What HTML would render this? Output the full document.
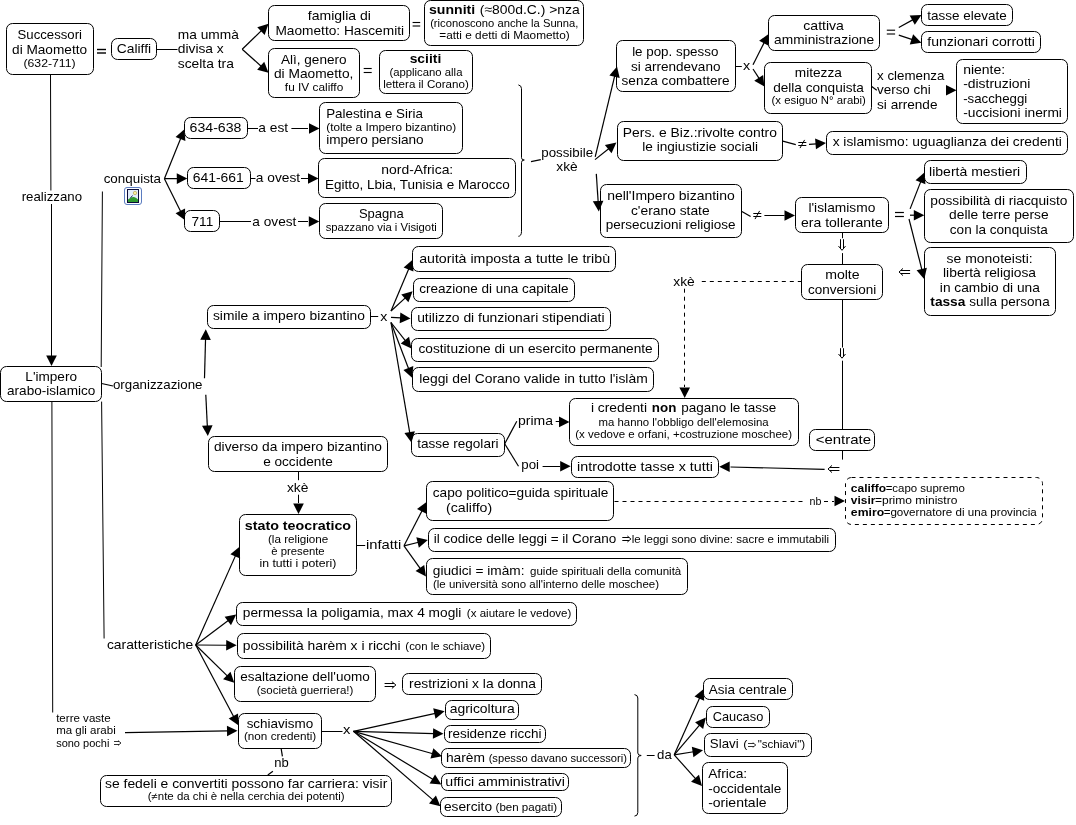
<!DOCTYPE html><html><head><meta charset="utf-8"><style>html,body{margin:0;padding:0;background:#fff;width:1076px;height:825px;overflow:hidden}svg{display:block;will-change:transform}text{font-family:"Liberation Sans",sans-serif;fill:#000}</style></head><body>
<svg width="1076" height="825" viewBox="0 0 1076 825">
<rect width="1076" height="825" fill="#fff"/>
<g fill="none" stroke="#000" stroke-width="1"><polyline points="50.5,74.5 50.9,190.5"/><polyline points="51.5,204 51.5,356"/><polyline points="156.5,49.5 177.5,49.5"/><polyline points="101.2,367 102.4,191.5"/><polyline points="247.5,128.5 258,128.5"/><polyline points="291.4,128.5 308,128.5"/><polyline points="250.5,178.5 255.5,178.5"/><polyline points="301,178.5 308,178.5"/><polyline points="219.5,221.5 251,221.5"/><polyline points="298,221.5 308,221.5"/><polyline points="735.5,66.5 741.8,66.5"/><polyline points="764.4,215.5 784.5,215.5"/><polyline points="842.5,232.5 842.5,238.2"/><polyline points="842.5,253.1 842.5,264.5"/><polyline points="842.5,299.5 842.5,347.5"/><polyline points="842.5,360.7 842.5,429.5"/><polyline points="842.5,450.5 842.5,459.6"/><polyline points="370.7,316.5 378.2,316.5"/><polyline points="555.7,421.5 559,421.5"/><polyline points="542.6,466.5 560,466.5"/><polyline points="356.4,545.5 365.2,545.5"/><polyline points="298.5,471.5 298.5,480.2"/><polyline points="298.5,494.7 298.5,503"/><polyline points="101.6,401.6 104.1,638.5"/><polyline points="51.9,401.6 52.7,712.5"/><polyline points="321.6,731.5 342.5,731.5"/><polyline points="646.8,755.5 654.6,755.5"/></g>
<g fill="none" stroke="#000" stroke-width="1.2"><polyline points="531,161.6 540.8,159.6"/><polyline points="871.7,86.6 876.8,90.3"/><polyline points="782.8,141.2 795.8,144.6"/><polyline points="741.9,211.5 750.6,216.5"/><polyline points="824.6,469.3 730.5,467"/><polyline points="101.6,383.5 113,386"/><polyline points="504.7,443.8 516.8,421.2"/><polyline points="504.7,443.8 518.5,466.3"/><polyline points="281.2,748.9 282.4,756.4"/><polyline points="272.9,771.2 267.8,775.1"/></g>
<g fill="none" stroke="#000" stroke-width="1" stroke-dasharray="4,4"><polyline points="701.8,281.5 801.5,281.5"/><polyline points="684.5,288.7 684.5,387"/><polyline points="614.5,501.5 803,501.5"/><polyline points="824,501.5 834,501.5"/></g>
<g stroke="#000" stroke-width="1.2"><line x1="242.2" y1="49.2" x2="261.67" y2="30.4"/><line x1="242.2" y1="49.2" x2="261.43" y2="66.46"/><line x1="164.4" y1="178.7" x2="180.84" y2="138.01"/><line x1="164.4" y1="178.7" x2="177.8" y2="178.58"/><line x1="164.4" y1="178.7" x2="180.78" y2="211.69"/><line x1="595.2" y1="156.8" x2="614.77" y2="75.73"/><line x1="595" y1="159.6" x2="608.98" y2="148.43"/><line x1="596.3" y1="173.9" x2="598.17" y2="202.02"/><line x1="753" y1="64.7" x2="764.31" y2="42.37"/><line x1="753" y1="69" x2="759.24" y2="78.63"/><line x1="898.8" y1="27.6" x2="913.1" y2="19.63"/><line x1="898.8" y1="35.1" x2="912.4" y2="39.67"/><line x1="809" y1="144.4" x2="816.53" y2="143.78"/><line x1="910.1" y1="208.9" x2="920.85" y2="181.35"/><line x1="910" y1="215.2" x2="914.8" y2="215.2"/><line x1="909" y1="219" x2="921.96" y2="269.99"/><line x1="391" y1="311" x2="408.91" y2="268.55"/><line x1="391" y1="311" x2="405.6" y2="297.62"/><line x1="391" y1="317.3" x2="401.02" y2="317.92"/><line x1="391" y1="322.5" x2="405.52" y2="340.94"/><line x1="391" y1="322.5" x2="408.71" y2="368.92"/><line x1="391" y1="322.5" x2="409.81" y2="433.13"/><line x1="204.5" y1="378.2" x2="205.55" y2="338.8"/><line x1="205.8" y1="394.8" x2="207.34" y2="426.51"/><line x1="404" y1="545.8" x2="422.16" y2="510.45"/><line x1="404" y1="545.8" x2="418.57" y2="542.25"/><line x1="404" y1="545.8" x2="420.47" y2="568.78"/><line x1="195.7" y1="645" x2="235.63" y2="555.38"/><line x1="195.7" y1="645" x2="228.6" y2="620.3"/><line x1="195.7" y1="645" x2="227.2" y2="645.23"/><line x1="195.7" y1="645" x2="227.51" y2="676.15"/><line x1="195.7" y1="645" x2="233.85" y2="716.91"/><line x1="125" y1="732.6" x2="228" y2="730.95"/><line x1="353.5" y1="731.3" x2="435.32" y2="713.34"/><line x1="353.5" y1="731.3" x2="434" y2="733.54"/><line x1="353.5" y1="731.3" x2="432.86" y2="753.72"/><line x1="353.5" y1="731.3" x2="433.18" y2="779.58"/><line x1="353.5" y1="731.3" x2="433.21" y2="800.09"/><line x1="674.2" y1="754.8" x2="699.72" y2="697.67"/><line x1="674.2" y1="754.8" x2="699.74" y2="724.83"/><line x1="674.2" y1="754.8" x2="693.61" y2="751.77"/><line x1="674.2" y1="754.8" x2="695.68" y2="778.91"/></g>
<g fill="#000"><polygon points="268.5,23.8 264.63,34.91 257.27,27.28"/><polygon points="268.5,72.8 257.15,69.73 264.22,61.84"/><polygon points="184.4,129.2 185.38,140.92 175.55,136.95"/><polygon points="187.3,178.5 176.85,183.89 176.75,173.29"/><polygon points="185,220.2 175.58,213.15 185.08,208.44"/><polygon points="319.5,128.5 309,133.8 309,123.2"/><polygon points="318.5,178.5 308,183.8 308,173.2"/><polygon points="319.3,221.5 308.8,226.8 308.8,216.2"/><polygon points="617,66.5 619.69,77.95 609.38,75.46"/><polygon points="616.4,142.5 611.51,153.2 604.89,144.91"/><polygon points="598.8,211.5 592.82,201.37 603.39,200.67"/><polygon points="768.6,33.9 768.58,45.66 759.13,40.87"/><polygon points="764.4,86.6 754.24,80.67 763.14,74.91"/><polygon points="921.4,15 914.81,24.74 909.65,15.48"/><polygon points="921.4,42.7 909.76,44.38 913.14,34.33"/><polygon points="956.5,90.3 946,95.6 946,85"/><polygon points="826,143 815.97,149.14 815.1,138.58"/><polygon points="795,215.5 784.5,220.8 784.5,210.2"/><polygon points="924.3,172.5 925.42,184.21 915.55,180.36"/><polygon points="924.3,215.2 913.8,220.5 913.8,209.9"/><polygon points="924.3,279.2 916.58,270.33 926.85,267.72"/><polygon points="719.2,466.8 729.7,461.5 729.7,472.1"/><polygon points="684.7,397.9 679.4,387.4 690,387.4"/><polygon points="412.6,259.8 413.4,271.53 403.64,267.41"/><polygon points="412.6,291.2 408.44,302.2 401.28,294.39"/><polygon points="410.5,318.5 399.69,323.15 400.35,312.57"/><polygon points="411.4,348.4 400.74,343.43 409.07,336.87"/><polygon points="412.1,377.8 403.41,369.88 413.31,366.1"/><polygon points="411.4,442.5 404.42,433.04 414.87,431.26"/><polygon points="205.8,329.3 210.82,339.94 200.22,339.66"/><polygon points="207.8,436 202,425.77 212.58,425.26"/><polygon points="569.5,421.9 559,427.2 559,416.6"/><polygon points="570.7,466.3 560.2,471.6 560.2,461"/><polygon points="845,501 834.5,506.3 834.5,495.7"/><polygon points="426.5,502 426.42,513.76 416.99,508.92"/><polygon points="427.8,540 418.85,547.64 416.34,537.34"/><polygon points="426,576.5 415.58,571.05 424.19,564.88"/><polygon points="298.5,514.1 293.2,503.6 303.8,503.6"/><polygon points="51.5,366 46.2,355.5 56.8,355.5"/><polygon points="239.5,546.7 240.07,558.45 230.39,554.13"/><polygon points="236.2,614.6 230.98,625.14 224.62,616.66"/><polygon points="236.7,645.3 226.16,650.52 226.24,639.92"/><polygon points="234.3,682.8 223.09,679.24 230.51,671.67"/><polygon points="238.3,725.3 228.7,718.51 238.06,713.54"/><polygon points="237.5,730.8 227.09,736.27 226.92,725.67"/><polygon points="444.6,711.3 435.48,718.73 433.21,708.37"/><polygon points="443.5,733.8 432.86,738.81 433.15,728.21"/><polygon points="442,756.3 430.45,758.55 433.34,748.35"/><polygon points="441.3,784.5 429.57,783.59 435.07,774.53"/><polygon points="440.4,806.3 428.99,803.45 435.91,795.43"/><polygon points="703.6,689 704.16,700.75 694.48,696.42"/><polygon points="705.9,717.6 703.12,729.03 695.06,722.15"/><polygon points="703,750.3 693.44,757.16 691.81,746.68"/><polygon points="702,786 691.06,781.69 698.97,774.63"/></g>
<g fill="none" stroke="#000" stroke-width="1"><path d="M518.4,84.9 Q521.5,85.5 521.5,88.7 L521.5,157.7 Q521.5,160 524.3,160 Q521.5,160 521.5,162.5 L521.5,231.5 Q521.5,236 518.4,236.3"/><path d="M634.5,694.6 Q637.8,695 637.8,698 L637.8,753 Q637.8,755.5 641.2,755.5 Q637.8,755.5 637.8,758 L637.8,812.5 Q637.8,816 634.5,816.1"/></g>
<g fill="none" stroke="#000" stroke-width="1"><rect x="6.5" y="23.5" width="87" height="51" rx="6" ry="6"/><rect x="111.5" y="38.5" width="45" height="21" rx="6" ry="6"/><rect x="268.5" y="5.5" width="141" height="35" rx="6" ry="6"/><rect x="424.5" y="0.5" width="159" height="45" rx="6" ry="6"/><rect x="268.5" y="48.5" width="91" height="49" rx="6" ry="6"/><rect x="379.5" y="50.5" width="93" height="43" rx="6" ry="6"/><rect x="184.5" y="117.5" width="63" height="21" rx="6" ry="6"/><rect x="187.5" y="167.5" width="63" height="21" rx="6" ry="6"/><rect x="184.5" y="210.5" width="35" height="21" rx="6" ry="6"/><rect x="319.5" y="102.5" width="143" height="51" rx="6" ry="6"/><rect x="318.5" y="158.5" width="197" height="39" rx="6" ry="6"/><rect x="319.5" y="203.5" width="123" height="35" rx="6" ry="6"/><rect x="616.5" y="40.5" width="119" height="51" rx="6" ry="6"/><rect x="617.5" y="121.5" width="165" height="39" rx="6" ry="6"/><rect x="600.5" y="184.5" width="141" height="53" rx="6" ry="6"/><rect x="768.5" y="15.5" width="111" height="35" rx="6" ry="6"/><rect x="764.5" y="62.5" width="107" height="51" rx="6" ry="6"/><rect x="921.5" y="4.5" width="91" height="21" rx="6" ry="6"/><rect x="921.5" y="31.5" width="119" height="21" rx="6" ry="6"/><rect x="956.5" y="59.5" width="111" height="64" rx="6" ry="6"/><rect x="826.5" y="131.5" width="241" height="23" rx="6" ry="6"/><rect x="924.5" y="160.5" width="102" height="23" rx="6" ry="6"/><rect x="924.5" y="189.5" width="149" height="53" rx="6" ry="6"/><rect x="924.5" y="247.5" width="131" height="68" rx="6" ry="6"/><rect x="795.5" y="197.5" width="93" height="35" rx="6" ry="6"/><rect x="801.5" y="264.5" width="81" height="35" rx="6" ry="6"/><rect x="809.5" y="429.5" width="65" height="21" rx="6" ry="6"/><rect x="0.5" y="366.5" width="101" height="35" rx="6" ry="6"/><rect x="207.5" y="305.5" width="163" height="23" rx="6" ry="6"/><rect x="208.5" y="436.5" width="179" height="35" rx="6" ry="6"/><rect x="412.5" y="246.5" width="203" height="25" rx="6" ry="6"/><rect x="413.5" y="278.5" width="161" height="23" rx="6" ry="6"/><rect x="411.5" y="307.5" width="199" height="23" rx="6" ry="6"/><rect x="411.5" y="338.5" width="247" height="23" rx="6" ry="6"/><rect x="412.5" y="367.5" width="241" height="24" rx="6" ry="6"/><rect x="411.5" y="433.5" width="93" height="23" rx="6" ry="6"/><rect x="569.5" y="398.5" width="229" height="47" rx="6" ry="6"/><rect x="571.5" y="456.5" width="147" height="21" rx="6" ry="6"/><rect x="426.5" y="481.5" width="187" height="39" rx="6" ry="6"/><rect x="428.5" y="528.5" width="407" height="23" rx="6" ry="6"/><rect x="426.5" y="558.5" width="261" height="36" rx="6" ry="6"/><rect x="845.5" y="477.5" width="197" height="47" rx="6" ry="6" stroke-dasharray="4,4"/><rect x="239.5" y="514.5" width="117" height="61" rx="6" ry="6"/><rect x="236.5" y="602.5" width="340" height="23" rx="6" ry="6"/><rect x="237.5" y="633.5" width="253" height="25" rx="6" ry="6"/><rect x="234.5" y="666.5" width="141" height="35" rx="6" ry="6"/><rect x="402.5" y="673.5" width="139" height="21" rx="6" ry="6"/><rect x="238.5" y="713.5" width="83" height="35" rx="6" ry="6"/><rect x="100.5" y="775.5" width="291" height="31" rx="6" ry="6"/><rect x="445.5" y="700.5" width="73" height="19" rx="6" ry="6"/><rect x="444.5" y="725.5" width="101" height="17" rx="6" ry="6"/><rect x="441.5" y="748.5" width="189" height="19" rx="6" ry="6"/><rect x="441.5" y="773.5" width="127" height="17" rx="6" ry="6"/><rect x="440.5" y="797.5" width="121" height="19" rx="6" ry="6"/><rect x="703.5" y="678.5" width="89" height="21" rx="6" ry="6"/><rect x="706.5" y="706.5" width="63" height="21" rx="6" ry="6"/><rect x="704.5" y="733.5" width="107" height="23" rx="6" ry="6"/><rect x="702.5" y="762.5" width="85" height="51" rx="6" ry="6"/></g>
<g fill="#000"><rect x="97" y="48.8" width="9" height="1.4"/><rect x="97" y="52.3" width="9" height="1.4"/><rect x="412.6" y="21.95" width="7.6" height="1.1"/><rect x="412.6" y="25.45" width="7.6" height="1.1"/><rect x="363.7" y="67.95" width="8" height="1.1"/><rect x="363.7" y="71.95" width="8" height="1.1"/><rect x="886.8" y="29.65" width="8.3" height="1.1"/><rect x="886.8" y="33.45" width="8.3" height="1.1"/><rect x="895" y="211.9" width="8.9" height="1.2"/><rect x="895" y="215.9" width="8.9" height="1.2"/></g>
<path fill="none" stroke="#000" stroke-width="1.0" d="M798.3,142.5h8 M798.3,145.5h8 M804.6,139.9 L800,148.1 M753.3,213.5h8 M753.3,216.5h8 M759.6,210.9 L755,219.1 M840.5,239.2V248.3 M843.5,239.2V248.3 M838.5,246.1 L842,250.3 L845.5,246.1 M840.5,348.2V356.2 M843.5,348.2V356.2 M838.5,354 L842,358.2 L845.5,354 M901,270.5H910.1 M901,273.5H910.1 M903,268.4 L899,272 L903,275.6 M830,467.5H839.4 M830,470.5H839.4 M832,465.4 L828,469 L832,472.6 M384.6,683.5H393.9 M384.6,686.5H393.9 M391.9,681.6 L395.9,685 L391.9,688.4 M622.3,537.5H628.9 M622.3,540.5H628.9 M627.4,536 L630.9,539 L627.4,542"/>
<path fill="none" stroke="#000" stroke-width="0.8" d="M114,741.5H119 M114,744.5H119 M118,740.6 L121,743 L118,745.4 M748,743.5H753.8 M748,746.5H753.8 M752.8,742.7 L755.8,745 L752.8,747.3"/>
<g><text x="17.55" y="39.4" font-size="13.4" textLength="64.4" lengthAdjust="spacingAndGlyphs">Successori</text><text x="12.05" y="54" font-size="13.4" textLength="75" lengthAdjust="spacingAndGlyphs">di Maometto</text><text x="23.45" y="66.6" font-size="10.6" textLength="52.2" lengthAdjust="spacingAndGlyphs">(632-711)</text><text x="116.75" y="53.3" font-size="13.4" textLength="34.3" lengthAdjust="spacingAndGlyphs">Califfi</text><text x="177.75" y="39.4" font-size="13.4" textLength="61.1" lengthAdjust="spacingAndGlyphs">ma ummà</text><text x="177.75" y="53.4" font-size="13.4" textLength="46" lengthAdjust="spacingAndGlyphs">divisa x</text><text x="177.75" y="67.7" font-size="13.4" textLength="56.1" lengthAdjust="spacingAndGlyphs">scelta tra</text><text x="307.85" y="20.1" font-size="13.4" textLength="63.1" lengthAdjust="spacingAndGlyphs">famiglia di</text><text x="275.45" y="34.6" font-size="13.4" textLength="128.6" lengthAdjust="spacingAndGlyphs">Maometto: Hascemiti</text><text x="429.05" y="13.8" font-size="13.4" font-weight="bold" textLength="46.1" lengthAdjust="spacingAndGlyphs">sunniti</text><text x="479.75" y="13.8" font-size="13.4" textLength="100" lengthAdjust="spacingAndGlyphs">(≈800d.C.) &gt;nza</text><text x="430.15" y="27.4" font-size="10.6" textLength="148.3" lengthAdjust="spacingAndGlyphs">(riconoscono anche la Sunna,</text><text x="439.25" y="39.2" font-size="10.6" textLength="130.4" lengthAdjust="spacingAndGlyphs">=atti e detti di Maometto)</text><text x="280.95" y="64" font-size="13.4" textLength="65.6" lengthAdjust="spacingAndGlyphs">Alì, genero</text><text x="273.95" y="78.3" font-size="13.4" textLength="79.4" lengthAdjust="spacingAndGlyphs">di Maometto,</text><text x="284.85" y="90.6" font-size="10.6" textLength="58.4" lengthAdjust="spacingAndGlyphs">fu IV califfo</text><text x="409.65" y="62.7" font-size="13.4" font-weight="bold" textLength="31.6" lengthAdjust="spacingAndGlyphs">sciiti</text><text x="389.45" y="76.1" font-size="10.6" textLength="73" lengthAdjust="spacingAndGlyphs">(applicano alla</text><text x="383.15" y="88.1" font-size="10.6" textLength="85.6" lengthAdjust="spacingAndGlyphs">lettera il Corano)</text><text x="189.55" y="132.2" font-size="13.4" textLength="51.9" lengthAdjust="spacingAndGlyphs">634-638</text><text x="192.75" y="182.4" font-size="13.4" textLength="51.1" lengthAdjust="spacingAndGlyphs">641-661</text><text x="191.55" y="225.7" font-size="13.4" textLength="21.7" lengthAdjust="spacingAndGlyphs">711</text><text x="258.35" y="131.7" font-size="13.4" textLength="29.8" lengthAdjust="spacingAndGlyphs">a est</text><text x="255.85" y="181.9" font-size="13.4" textLength="44.3" lengthAdjust="spacingAndGlyphs">a ovest</text><text x="252.35" y="225.7" font-size="13.4" textLength="44" lengthAdjust="spacingAndGlyphs">a ovest</text><text x="326.15" y="117.9" font-size="13.4" textLength="96.7" lengthAdjust="spacingAndGlyphs">Palestina e Siria</text><text x="326.25" y="131.3" font-size="10.6" textLength="129.9" lengthAdjust="spacingAndGlyphs">(tolte a Impero bizantino)</text><text x="326.15" y="144.3" font-size="13.4" textLength="97.5" lengthAdjust="spacingAndGlyphs">impero persiano</text><text x="381.35" y="173.6" font-size="13.4" textLength="71.9" lengthAdjust="spacingAndGlyphs">nord-Africa:</text><text x="324.95" y="188.5" font-size="13.4" textLength="184.8" lengthAdjust="spacingAndGlyphs">Egitto, Lbia, Tunisia e Marocco</text><text x="358.95" y="217.6" font-size="13.4" textLength="44.8" lengthAdjust="spacingAndGlyphs">Spagna</text><text x="325.65" y="230.5" font-size="10.6" textLength="111.2" lengthAdjust="spacingAndGlyphs">spazzano via i Visigoti</text><text x="103.65" y="182.7" font-size="13.4" textLength="57.4" lengthAdjust="spacingAndGlyphs">conquista</text><text x="21.65" y="200.6" font-size="13.4" textLength="60.4" lengthAdjust="spacingAndGlyphs">realizzano</text><text x="25.35" y="380.8" font-size="13.4" textLength="51.6" lengthAdjust="spacingAndGlyphs">L'impero</text><text x="7.05" y="394.8" font-size="13.4" textLength="88.3" lengthAdjust="spacingAndGlyphs">arabo-islamico</text><text x="112.95" y="388.5" font-size="13.4" textLength="89.5" lengthAdjust="spacingAndGlyphs">organizzazione</text><text x="541.25" y="156.8" font-size="13.4" textLength="51.8" lengthAdjust="spacingAndGlyphs">possibile</text><text x="556.35" y="171.4" font-size="13.4" textLength="21.4" lengthAdjust="spacingAndGlyphs">xkè</text><text x="632.15" y="56.2" font-size="13.4" textLength="86.2" lengthAdjust="spacingAndGlyphs">le pop. spesso</text><text x="630.95" y="70.8" font-size="13.4" textLength="89.5" lengthAdjust="spacingAndGlyphs">si arrendevano</text><text x="621.55" y="84.8" font-size="13.4" textLength="108.1" lengthAdjust="spacingAndGlyphs">senza combattere</text><text x="743.05" y="70.3" font-size="13.4" textLength="7.2" lengthAdjust="spacingAndGlyphs">x</text><text x="803.35" y="29.6" font-size="13.4" textLength="40.5" lengthAdjust="spacingAndGlyphs">cattiva</text><text x="774.05" y="43.9" font-size="13.4" textLength="100.1" lengthAdjust="spacingAndGlyphs">amministrazione</text><text x="927.25" y="19.6" font-size="13.4" textLength="79.4" lengthAdjust="spacingAndGlyphs">tasse elevate</text><text x="927.25" y="46.4" font-size="13.4" textLength="107.6" lengthAdjust="spacingAndGlyphs">funzionari corrotti</text><text x="794.75" y="77.3" font-size="13.4" textLength="47.1" lengthAdjust="spacingAndGlyphs">mitezza</text><text x="773.15" y="91.6" font-size="13.4" textLength="90.8" lengthAdjust="spacingAndGlyphs">della conquista</text><text x="771.55" y="104.4" font-size="10.6" textLength="94.3" lengthAdjust="spacingAndGlyphs">(x esiguo N° arabi)</text><text x="877.05" y="79.8" font-size="13.4" textLength="67.4" lengthAdjust="spacingAndGlyphs">x clemenza</text><text x="877.05" y="94.1" font-size="13.4" textLength="53.6" lengthAdjust="spacingAndGlyphs">verso chi</text><text x="877.05" y="108.7" font-size="13.4" textLength="60.4" lengthAdjust="spacingAndGlyphs">si arrende</text><text x="963.15" y="74" font-size="13.4" textLength="42" lengthAdjust="spacingAndGlyphs">niente:</text><text x="963.15" y="88.3" font-size="13.4" textLength="67.3" lengthAdjust="spacingAndGlyphs">-distruzioni</text><text x="963.15" y="102.9" font-size="13.4" textLength="64.1" lengthAdjust="spacingAndGlyphs">-saccheggi</text><text x="963.15" y="117.4" font-size="13.4" textLength="98.8" lengthAdjust="spacingAndGlyphs">-uccisioni inermi</text><text x="622.85" y="136.8" font-size="13.4" textLength="154" lengthAdjust="spacingAndGlyphs">Pers. e Biz.:rivolte contro</text><text x="642.25" y="151" font-size="13.4" textLength="115.8" lengthAdjust="spacingAndGlyphs">le ingiustizie sociali</text><text x="832.65" y="146" font-size="13.4" textLength="229.3" lengthAdjust="spacingAndGlyphs">x islamismo: uguaglianza dei credenti</text><text x="607.15" y="200.2" font-size="13.4" textLength="127.6" lengthAdjust="spacingAndGlyphs">nell'Impero bizantino</text><text x="630.95" y="214.8" font-size="13.4" textLength="78.7" lengthAdjust="spacingAndGlyphs">c'erano state</text><text x="605.85" y="229.1" font-size="13.4" textLength="129.7" lengthAdjust="spacingAndGlyphs">persecuzioni religiose</text><text x="808.45" y="211.9" font-size="13.4" textLength="66.9" lengthAdjust="spacingAndGlyphs">l'islamismo</text><text x="801.05" y="226.5" font-size="13.4" textLength="81.7" lengthAdjust="spacingAndGlyphs">era tollerante</text><text x="929.05" y="176.4" font-size="13.4" textLength="91.2" lengthAdjust="spacingAndGlyphs">libertà mestieri</text><text x="930.25" y="204.6" font-size="13.4" textLength="137.2" lengthAdjust="spacingAndGlyphs">possibilità di riacquisto</text><text x="949.05" y="219.4" font-size="13.4" textLength="99.6" lengthAdjust="spacingAndGlyphs">delle terre perse</text><text x="949.85" y="233.5" font-size="13.4" textLength="98" lengthAdjust="spacingAndGlyphs">con la conquista</text><text x="946.55" y="262.8" font-size="13.4" textLength="86.2" lengthAdjust="spacingAndGlyphs">se monoteisti:</text><text x="943.05" y="277.2" font-size="13.4" textLength="93" lengthAdjust="spacingAndGlyphs">libertà religiosa</text><text x="939.85" y="291.7" font-size="13.4" textLength="100" lengthAdjust="spacingAndGlyphs">in cambio di una</text><text x="930.35" y="306.3" font-size="13.4" font-weight="bold" textLength="35" lengthAdjust="spacingAndGlyphs">tassa</text><text x="969.35" y="306.3" font-size="13.4" textLength="80.3" lengthAdjust="spacingAndGlyphs">sulla persona</text><text x="825.15" y="279.2" font-size="13.4" textLength="34.5" lengthAdjust="spacingAndGlyphs">molte</text><text x="808.05" y="293.5" font-size="13.4" textLength="68.2" lengthAdjust="spacingAndGlyphs">conversioni</text><text x="673.25" y="285.7" font-size="13.4" textLength="21.5" lengthAdjust="spacingAndGlyphs">xkè</text><text x="212.95" y="320" font-size="13.4" textLength="151.9" lengthAdjust="spacingAndGlyphs">simile a impero bizantino</text><text x="380.35" y="320.5" font-size="13.4" textLength="7.1" lengthAdjust="spacingAndGlyphs">x</text><text x="419.15" y="262.9" font-size="13.4" textLength="190.9" lengthAdjust="spacingAndGlyphs">autorità imposta a tutte le tribù</text><text x="419.15" y="293.2" font-size="13.4" textLength="149.5" lengthAdjust="spacingAndGlyphs">creazione di una capitale</text><text x="417.15" y="322" font-size="13.4" textLength="187.4" lengthAdjust="spacingAndGlyphs">utilizzo di funzionari stipendiati</text><text x="418.45" y="353.4" font-size="13.4" textLength="234.3" lengthAdjust="spacingAndGlyphs">costituzione di un esercito permanente</text><text x="419.15" y="382.8" font-size="13.4" textLength="228.6" lengthAdjust="spacingAndGlyphs">leggi del Corano valide in tutto l'islàm</text><text x="417.15" y="448" font-size="13.4" textLength="81.3" lengthAdjust="spacingAndGlyphs">tasse regolari</text><text x="518.05" y="424.9" font-size="13.4" textLength="35" lengthAdjust="spacingAndGlyphs">prima</text><text x="521.35" y="468.8" font-size="13.4" textLength="17.7" lengthAdjust="spacingAndGlyphs">poi</text><text x="590.95" y="412.4" font-size="13.4" textLength="56.1" lengthAdjust="spacingAndGlyphs">i credenti</text><text x="651.85" y="412.4" font-size="13.4" font-weight="bold" textLength="24.5" lengthAdjust="spacingAndGlyphs">non</text><text x="681.25" y="412.4" font-size="13.4" textLength="95" lengthAdjust="spacingAndGlyphs">pagano le tasse</text><text x="598.55" y="425.8" font-size="10.6" textLength="170.1" lengthAdjust="spacingAndGlyphs">ma hanno l'obbligo dell'elemosina</text><text x="575.25" y="437.8" font-size="10.6" textLength="216.8" lengthAdjust="spacingAndGlyphs">(x vedove e orfani, +costruzione moschee)</text><text x="577.05" y="470.5" font-size="13.4" textLength="135.8" lengthAdjust="spacingAndGlyphs">introdotte tasse x tutti</text><text x="815.75" y="444.3" font-size="13.4" textLength="55.3" lengthAdjust="spacingAndGlyphs">&lt;entrate</text><text x="432.75" y="497.2" font-size="13.4" textLength="175.6" lengthAdjust="spacingAndGlyphs">capo politico=guida spirituale</text><text x="446.05" y="511.5" font-size="13.4" textLength="46.1" lengthAdjust="spacingAndGlyphs">(califfo)</text><text x="809.45" y="504.8" font-size="10.6" textLength="11.9" lengthAdjust="spacingAndGlyphs">nb</text><text x="850.85" y="491.7" font-size="10.6" font-weight="bold" textLength="35.3" lengthAdjust="spacingAndGlyphs">califfo</text><text x="885.65" y="491.7" font-size="10.6" textLength="79.3" lengthAdjust="spacingAndGlyphs">=capo supremo</text><text x="850.85" y="503.8" font-size="10.6" font-weight="bold" textLength="24.5" lengthAdjust="spacingAndGlyphs">visir</text><text x="874.95" y="503.8" font-size="10.6" textLength="82.4" lengthAdjust="spacingAndGlyphs">=primo ministro</text><text x="850.85" y="515.6" font-size="10.6" font-weight="bold" textLength="33.3" lengthAdjust="spacingAndGlyphs">emiro</text><text x="883.65" y="515.6" font-size="10.6" textLength="153.1" lengthAdjust="spacingAndGlyphs">=governatore di una provincia</text><text x="433.75" y="542.7" font-size="13.4" textLength="182.6" lengthAdjust="spacingAndGlyphs">il codice delle leggi = il Corano</text><text x="631.75" y="543" font-size="10.6" textLength="197.4" lengthAdjust="spacingAndGlyphs">le leggi sono divine: sacre e immutabili</text><text x="432.85" y="574.7" font-size="13.4" textLength="91.6" lengthAdjust="spacingAndGlyphs">giudici = imàm:</text><text x="530.05" y="575" font-size="10.6" textLength="151.2" lengthAdjust="spacingAndGlyphs">guide spirituali della comunità</text><text x="432.95" y="587.9" font-size="10.6" textLength="226.1" lengthAdjust="spacingAndGlyphs">(le università sono all'interno delle moschee)</text><text x="213.95" y="451.3" font-size="13.4" textLength="168" lengthAdjust="spacingAndGlyphs">diverso da impero bizantino</text><text x="263.15" y="465.6" font-size="13.4" textLength="69.6" lengthAdjust="spacingAndGlyphs">e occidente</text><text x="286.95" y="492.2" font-size="13.4" textLength="21.5" lengthAdjust="spacingAndGlyphs">xkè</text><text x="244.75" y="530.4" font-size="13.4" font-weight="bold" textLength="106.3" lengthAdjust="spacingAndGlyphs">stato teocratico</text><text x="267.95" y="543.2" font-size="10.6" textLength="60.4" lengthAdjust="spacingAndGlyphs">(la religione</text><text x="271.25" y="555.3" font-size="10.6" textLength="53.4" lengthAdjust="spacingAndGlyphs">è presente</text><text x="259.45" y="567.1" font-size="10.6" textLength="77" lengthAdjust="spacingAndGlyphs">in tutti i poteri)</text><text x="365.95" y="549.2" font-size="13.4" textLength="35.3" lengthAdjust="spacingAndGlyphs">infatti</text><text x="106.95" y="649.3" font-size="13.4" textLength="86.2" lengthAdjust="spacingAndGlyphs">caratteristiche</text><text x="56.15" y="722.1" font-size="10.6" textLength="54.6" lengthAdjust="spacingAndGlyphs">terre vaste</text><text x="56.15" y="734.1" font-size="10.6" textLength="59.6" lengthAdjust="spacingAndGlyphs">ma gli arabi</text><text x="56.15" y="746.7" font-size="10.6" textLength="53.2" lengthAdjust="spacingAndGlyphs">sono pochi</text><text x="242.85" y="616.9" font-size="13.4" textLength="218.5" lengthAdjust="spacingAndGlyphs">permessa la poligamia, max 4 mogli</text><text x="466.85" y="617.3" font-size="10.6" textLength="104.5" lengthAdjust="spacingAndGlyphs">(x aiutare le vedove)</text><text x="242.85" y="649.7" font-size="13.4" textLength="157.8" lengthAdjust="spacingAndGlyphs">possibilità harèm x i ricchi</text><text x="405.35" y="650" font-size="10.6" textLength="79.7" lengthAdjust="spacingAndGlyphs">(con le schiave)</text><text x="240.15" y="680.8" font-size="13.4" textLength="129.6" lengthAdjust="spacingAndGlyphs">esaltazione dell'uomo</text><text x="256.75" y="693.7" font-size="10.6" textLength="96.6" lengthAdjust="spacingAndGlyphs">(società guerriera!)</text><text x="409.05" y="688" font-size="13.4" textLength="126.9" lengthAdjust="spacingAndGlyphs">restrizioni x la donna</text><text x="246.65" y="728" font-size="13.4" textLength="66.6" lengthAdjust="spacingAndGlyphs">schiavismo</text><text x="243.95" y="740.3" font-size="10.6" textLength="72.3" lengthAdjust="spacingAndGlyphs">(non credenti)</text><text x="343.05" y="734.3" font-size="13.4" textLength="7.4" lengthAdjust="spacingAndGlyphs">x</text><text x="274.25" y="766.9" font-size="13.4" textLength="14.5" lengthAdjust="spacingAndGlyphs">nb</text><text x="105.05" y="787.6" font-size="13.4" textLength="282.2" lengthAdjust="spacingAndGlyphs">se fedeli e convertiti possono far carriera: visir</text><text x="147.65" y="800.3" font-size="10.6" textLength="197" lengthAdjust="spacingAndGlyphs">(≠nte da chi è nella cerchia dei potenti)</text><text x="449.75" y="713.1" font-size="13.4" textLength="64.9" lengthAdjust="spacingAndGlyphs">agricoltura</text><text x="447.95" y="738.2" font-size="13.4" textLength="93.5" lengthAdjust="spacingAndGlyphs">residenze ricchi</text><text x="445.95" y="762" font-size="13.4" textLength="39.1" lengthAdjust="spacingAndGlyphs">harèm</text><text x="488.65" y="762.3" font-size="10.6" textLength="138.3" lengthAdjust="spacingAndGlyphs">(spesso davano successori)</text><text x="445.25" y="785.9" font-size="13.4" textLength="119.6" lengthAdjust="spacingAndGlyphs">uffici amministrativi</text><text x="443.95" y="811" font-size="13.4" textLength="48.1" lengthAdjust="spacingAndGlyphs">esercito</text><text x="495.55" y="811.3" font-size="10.6" textLength="61.6" lengthAdjust="spacingAndGlyphs">(ben pagati)</text><text x="657.05" y="759.3" font-size="13.4" textLength="14.7" lengthAdjust="spacingAndGlyphs">da</text><text x="708.75" y="693.5" font-size="13.4" textLength="77.9" lengthAdjust="spacingAndGlyphs">Asia centrale</text><text x="712.75" y="721.3" font-size="13.4" textLength="50.5" lengthAdjust="spacingAndGlyphs">Caucaso</text><text x="709.85" y="748.1" font-size="13.4" textLength="28.8" lengthAdjust="spacingAndGlyphs">Slavi</text><text x="743.25" y="748.4" font-size="10.6" textLength="4.1" lengthAdjust="spacingAndGlyphs">(</text><text x="757.65" y="748.4" font-size="10.6" textLength="47.5" lengthAdjust="spacingAndGlyphs">"schiavi")</text><text x="708.15" y="777.8" font-size="13.4" textLength="39" lengthAdjust="spacingAndGlyphs">Africa:</text><text x="708.15" y="792.7" font-size="13.4" textLength="73.3" lengthAdjust="spacingAndGlyphs">-occidentale</text><text x="708.15" y="807.2" font-size="13.4" textLength="58.4" lengthAdjust="spacingAndGlyphs">-orientale</text></g>
<g><rect x="124.5" y="187.5" width="17" height="17" rx="2.5" fill="#fbfdff" stroke="#5b7cc0"/><rect x="127.5" y="189.5" width="11" height="13" fill="#e2ecfa" stroke="#0b0b3a"/><path d="M128,202 L128,199.5 Q131,196.5 134,197 Q136.5,197.5 138,199.5 V202 Z" fill="#2f9a2f"/><path d="M130.5,198 L132.5,195.5" stroke="#1a2a60" stroke-width="1"/><circle cx="135" cy="193" r="1.7" fill="#f6f09a" stroke="#b9a35a" stroke-width="0.7"/></g>
</svg></body></html>
